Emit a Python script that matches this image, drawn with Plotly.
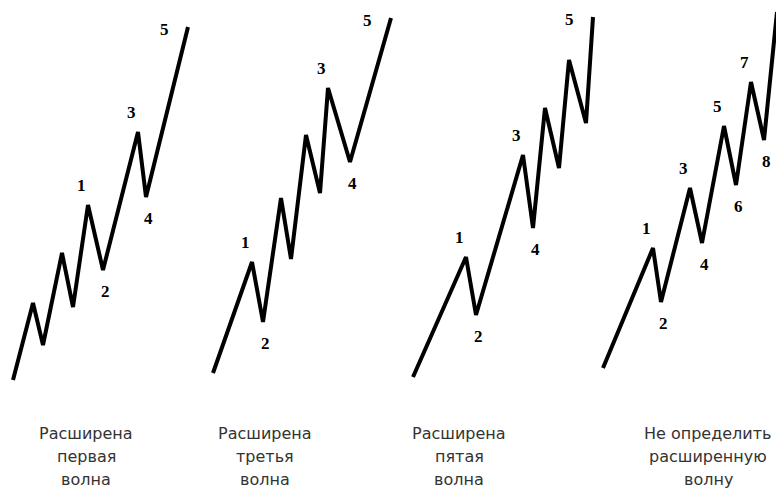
"""Elliott wave extensions: four impulse sketches with captions."""

import plotly.graph_objects as go

# Vertex coordinates of each impulse (x = time units, y = price units)
first_x = [13, 33, 43, 62, 73, 88, 103, 138, 146, 188]
first_y = [111, 188, 146, 238, 184, 286, 221, 359, 294, 464]
third_x = [213, 252, 263, 281, 291, 306, 320, 328, 350, 391]
third_y = [118, 229, 169, 293, 232, 356, 298, 403, 329, 473]
fifth_x = [413, 466, 476, 523, 533, 545, 559, 569, 586, 593]
fifth_y = [114, 234, 176, 336, 263, 383, 323, 431, 368, 474]
unknown_x = [603, 653, 661, 690, 702, 724, 736, 751, 764, 777]
unknown_y = [123, 243, 189, 303, 248, 365, 306, 409, 351, 479]

# Which vertices carry a wave number
first_marks = {5: "1", 6: "2", 7: "3", 8: "4", 9: "5"}
third_marks = {1: "1", 2: "2", 7: "3", 8: "4", 9: "5"}
fifth_marks = {1: "1", 2: "2", 3: "3", 4: "4", 9: "5"}
unknown_marks = {i: str(i) for i in range(1, 10)}

captions = [
    ["Расширена", "первая", "волна"],
    ["Расширена", "третья", "волна"],
    ["Расширена", "пятая", "волна"],
    ["Не определить", "расширенную", "волну"],
]
caption_x = [86, 265, 459, 708]

panels = [
    (first_x, first_y, first_marks),
    (third_x, third_y, third_marks),
    (fifth_x, fifth_y, fifth_marks),
    (unknown_x, unknown_y, unknown_marks),
]

fig = go.Figure()
annotations = []
for xs, ys, marks in panels:
    fig.add_trace(
        go.Scatter(
            x=xs,
            y=ys,
            mode="lines",
            line=dict(color="#000000", width=4),
            hoverinfo="skip",
            showlegend=False,
        )
    )
    last = len(xs) - 1
    for idx, label in marks.items():
        if idx == last:
            dx, dy = -24, -2
        elif ys[idx] > ys[idx - 1]:
            dx, dy = -7, 20
        else:
            dx, dy = 2, -21
        annotations.append(
            dict(
                x=xs[idx],
                y=ys[idx],
                text=f"<b>{label}</b>",
                showarrow=False,
                xshift=dx,
                yshift=dy,
                font=dict(family="Liberation Serif", size=17, color="#000000"),
            )
        )

for cx, lines in zip(caption_x, captions):
    for row, line in enumerate(lines):
        annotations.append(
            dict(
                x=cx,
                y=58 - 23 * row,
                text=line,
                showarrow=False,
                font=dict(family="DejaVu Sans", size=16, color="#333333"),
            )
        )

fig.update_layout(
    width=776,
    height=491,
    margin=dict(l=0, r=0, t=0, b=0),
    paper_bgcolor="white",
    plot_bgcolor="white",
    xaxis=dict(range=[0, 776], visible=False, fixedrange=True),
    yaxis=dict(range=[0, 491], visible=False, fixedrange=True),
    annotations=annotations,
)
fig.write_html(
    "out.html",
    config={"displayModeBar": False},
    post_script="document.body.style.margin='0';",
)
